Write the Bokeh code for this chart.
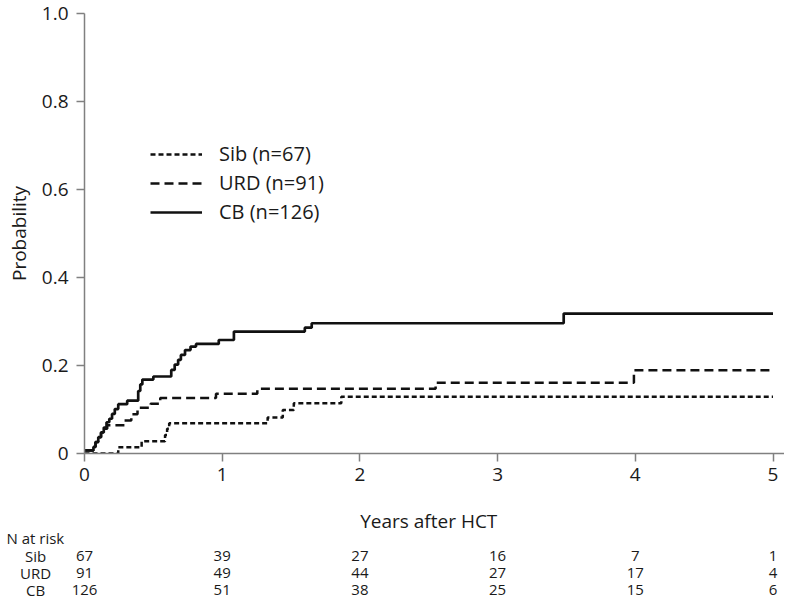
from bokeh.plotting import figure
from bokeh.layouts import column
from bokeh.models import (Range1d, FixedTicker, Legend, LegendItem, ColumnDataSource)
from bokeh.core.properties import value
from bokeh.embed import file_html
from bokeh.resources import INLINE

# ---------------- data ----------------
sib_t = [0.0, 0.245, 0.415, 0.585, 0.60, 0.615, 1.33, 1.44, 1.52, 1.865, 5.0]
sib_p = [0.0, 0.014, 0.028, 0.042, 0.056, 0.069, 0.082, 0.099, 0.114, 0.129, 0.129]

urd_t = [0.0, 0.065, 0.08, 0.10, 0.12, 0.14, 0.165, 0.29, 0.34, 0.385, 0.48, 0.55,
         0.955, 1.255, 2.55, 3.99, 5.0]
urd_p = [0.007, 0.015, 0.026, 0.037, 0.048, 0.056, 0.064, 0.075, 0.089, 0.104, 0.113,
         0.126, 0.136, 0.147, 0.161, 0.189, 0.189]

cb_t = [0.0, 0.065, 0.08, 0.10, 0.12, 0.14, 0.16, 0.18, 0.20, 0.22, 0.245, 0.31,
        0.39, 0.405, 0.42, 0.50, 0.63, 0.655, 0.68, 0.70, 0.73, 0.77, 0.81, 0.975,
        1.085, 1.60, 1.65, 3.48, 5.0]
cb_p = [0.007, 0.015, 0.026, 0.037, 0.048, 0.059, 0.071, 0.079, 0.090, 0.101, 0.112,
        0.120, 0.142, 0.157, 0.168, 0.175, 0.190, 0.202, 0.213, 0.224, 0.235, 0.243,
        0.249, 0.258, 0.277, 0.286, 0.296, 0.318, 0.318]

series_names = ["Sib (n=67)", "URD (n=91)", "CB (n=126)"]
risk_groups = ["Sib", "URD", "CB"]
risk_times = [0, 1, 2, 3, 4, 5]
risk_sib = [67, 39, 27, 16, 7, 1]
risk_urd = [91, 49, 44, 27, 17, 4]
risk_cb = [126, 51, 38, 25, 15, 6]

x_ticks = [0, 1, 2, 3, 4, 5]
y_ticks = [0, 0.2, 0.4, 0.6, 0.8, 1.0]
y_tick_labels = {0: "0", 0.2: "0.2", 0.4: "0.4", 0.6: "0.6", 0.8: "0.8", 1.0: "1.0"}

# ---------------- layout ----------------
FONT = "Open Sans"
TXT = "#1a1a1a"
AX = "#808080"
W = 784
H1 = 489                   # main figure height
H2 = 110                   # risk table height
LEFT, TOP = 84, 13
FRAME_BOTTOM = 453
PX_PER_YEAR = 137.7
X_START = -LEFT / PX_PER_YEAR
X_END = (W - LEFT) / PX_PER_YEAR

p = figure(width=W, height=H1, output_backend="svg", toolbar_location=None,
           x_range=Range1d(0, X_END), y_range=Range1d(0, 1.0),
           min_border_left=LEFT, min_border_top=TOP, min_border_right=0,
           min_border_bottom=H1 - FRAME_BOTTOM)
p.outline_line_color = None
p.grid.visible = False
p.background_fill_color = "white"
p.border_fill_color = "white"

for ax in (p.xaxis[0], p.yaxis[0]):
    ax.axis_line_color = AX
    ax.axis_line_width = 1.5
    ax.major_tick_line_color = AX
    ax.major_tick_line_width = 1.5
    ax.major_tick_out = 8
    ax.major_tick_in = 0
    ax.minor_tick_line_color = None
    ax.major_label_text_font = FONT
    ax.major_label_text_font_size = "19px"
    ax.major_label_text_color = TXT

p.xaxis.ticker = FixedTicker(ticks=x_ticks)
p.yaxis.ticker = FixedTicker(ticks=y_ticks)
p.yaxis.major_label_overrides = y_tick_labels
p.xaxis.major_label_standoff = 6
p.yaxis.major_label_standoff = 8
p.yaxis.axis_label = "Probability"
p.yaxis.axis_label_text_font = FONT
p.yaxis.axis_label_text_font_size = "19px"
p.yaxis.axis_label_text_font_style = "normal"
p.yaxis.axis_label_text_color = TXT
p.yaxis.axis_label_standoff = 7

r_sib = p.step(sib_t, sib_p, mode="after", line_color="#111111", line_width=2.5,
               line_dash="5 3")
r_urd = p.step(urd_t, urd_p, mode="after", line_color="#111111", line_width=2.5,
               line_dash="9 5")
r_cb = p.step(cb_t, cb_p, mode="after", line_color="#111111", line_width=2.7)

legend = Legend(items=[LegendItem(label=series_names[0], renderers=[r_sib]),
                       LegendItem(label=series_names[1], renderers=[r_urd]),
                       LegendItem(label=series_names[2], renderers=[r_cb])],
                location=(66, 228), orientation="vertical")
legend.label_text_font = FONT
legend.label_text_font_size = "20px"
legend.label_text_color = TXT
legend.glyph_width = 52
legend.glyph_height = 20
legend.label_height = 20
legend.label_standoff = 17
legend.spacing = 2
legend.padding = 0
legend.margin = 0
legend.border_line_color = None
legend.background_fill_alpha = 0
p.add_layout(legend)

# ---------------- x title + number at risk table ----------------
# y in this panel = pixels from its top edge; its frame spans the full width
t = figure(width=W, height=H2, output_backend="svg", toolbar_location=None,
           x_range=Range1d(X_START, X_END), y_range=Range1d(H2, 0),
           min_border=0)
t.frame_align = False
t.axis.visible = False
t.grid.visible = False
t.outline_line_color = None
t.background_fill_color = "white"
t.border_fill_color = "white"

t.text(x=[2.5], y=[31], text=["Years after HCT"], text_font=value(FONT),
       text_font_size="19px", text_color=TXT, text_align="center",
       text_baseline="middle")
t.text(x=[(6 - LEFT) / PX_PER_YEAR], y=[48], text=["N at risk"], text_font=value(FONT),
       text_font_size="15px", text_color=TXT, text_align="left",
       text_baseline="middle")

row_y = [66, 83, 100]
t.text(x=[(35 - LEFT) / PX_PER_YEAR] * 3, y=row_y, text=risk_groups,
       text_font=value(FONT), text_font_size="15px", text_color=TXT,
       text_align="center", text_baseline="middle")

for vals, yy in zip([risk_sib, risk_urd, risk_cb], row_y):
    src = ColumnDataSource(dict(x=risk_times, y=[yy] * len(risk_times),
                                t=[str(v) for v in vals]))
    t.text(x="x", y="y", text="t", source=src, text_font=value(FONT),
           text_font_size="15px", text_color=TXT, text_align="center",
           text_baseline="middle")

layout = column(p, t, spacing=0)
open("out.html", "w").write(file_html(layout, INLINE))
